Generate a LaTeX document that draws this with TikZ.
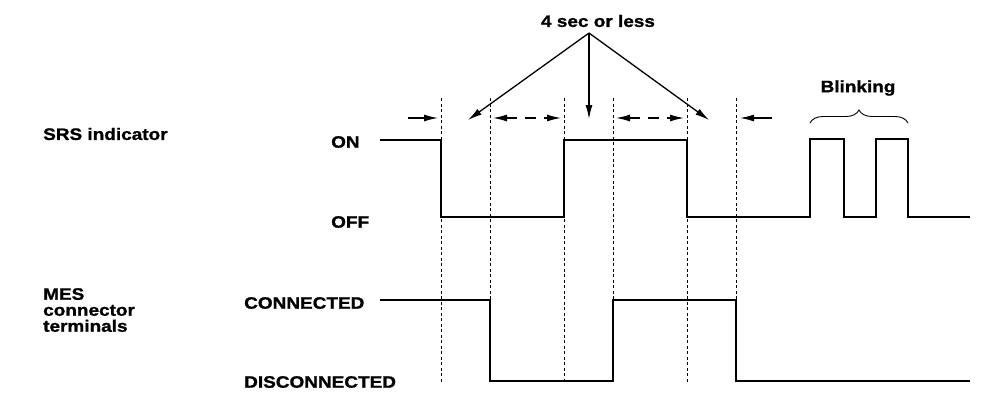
\documentclass[tikz,border=0pt]{standalone}
\usepackage{fontspec}
\setmainfont{Liberation Sans}[FakeStretch=1.15,FakeBold=1.2]
\usetikzlibrary{arrows.meta,decorations.pathreplacing}
\begin{document}
\begin{tikzpicture}[x=1pt,y=-1pt,
  lbl/.style={font=\fontsize{16.5}{16}\selectfont\bfseries, inner sep=0pt},
  sig/.style={line width=2.9pt, line join=miter},
  guide/.style={line width=0.9pt, dash pattern=on 3pt off 2.5pt},
  ptr/.style={line width=1.3pt, -{Latex[length=14pt,width=7pt]}},
  dptr/.style={line width=1.3pt, dash pattern=on 11pt off 8pt, {Latex[length=14pt,width=7pt]}-{Latex[length=14pt,width=7pt]}}
]
\useasboundingbox (0,0) rectangle (1008,416);
% labels
\node[lbl, anchor=west] (srs) at (43,134) {SRS indicator};
\node[lbl, anchor=north west, align=left] (mes) at (43,288) {MES\\connector\\terminals};
\node[lbl, anchor=west] (on) at (331,142) {ON};
\node[lbl, anchor=west] (off) at (331,222) {OFF};
\node[lbl, anchor=west] (con) at (244,303) {CONNECTED};
\node[lbl, anchor=west] (dis) at (244,382) {DISCONNECTED};
\node[lbl] (sec) at (598,21) {4 sec or less};
\node[lbl] (blink) at (858,88) {Blinking};
% guide lines
\foreach \x/\n in {441/g1,490/g2,564/g3,613/g4,687/g5,736/g6}{
  \coordinate (\n t) at (\x,98);
  \coordinate (\n b) at (\x,382);
  \draw[guide] (\n t) -- (\n b);
}
% SRS waveform
\draw[sig] (380,140) -- (441,140) -- (441,217) -- (564,217) -- (564,140) -- (687,140) -- (687,217)
  -- (810,217) -- (810,139) -- (844,139) -- (844,217) -- (876,217) -- (876,139) -- (908,139) -- (908,217) -- (970,217);
% MES waveform
\draw[sig] (380,300) -- (490,300) -- (490,381) -- (613,381) -- (613,300) -- (736,300) -- (736,381) -- (970,381);
% pointers from "4 sec or less"
\coordinate (apex) at (589,33);
\coordinate (tl) at (468,120);
\coordinate (tm) at (589,119);
\coordinate (tr) at (709,120);
\draw[ptr] (apex) -- (tl);
\draw[ptr] (apex) -- (tm);
\draw[ptr] (apex) -- (tr);
% interval arrows
\coordinate (la) at (408,118);
\coordinate (lb) at (438,118);
\draw[ptr] (la) -- (lb);
\coordinate (ra) at (772,118);
\coordinate (rb) at (740,118);
\draw[ptr] (ra) -- (rb);
\coordinate (d1a) at (493,118);
\coordinate (d1b) at (561,118);
\draw[dptr] (d1a) -- (d1b);
\coordinate (d2a) at (616,118);
\coordinate (d2b) at (684,118);
\draw[dptr] (d2a) -- (d2b);
% brace
\coordinate (bra) at (810,123);
\coordinate (brb) at (908,123);
\draw[line width=0.9pt, decorate, decoration={brace, amplitude=13pt}] (bra) -- (brb);
\end{tikzpicture}
\end{document}
